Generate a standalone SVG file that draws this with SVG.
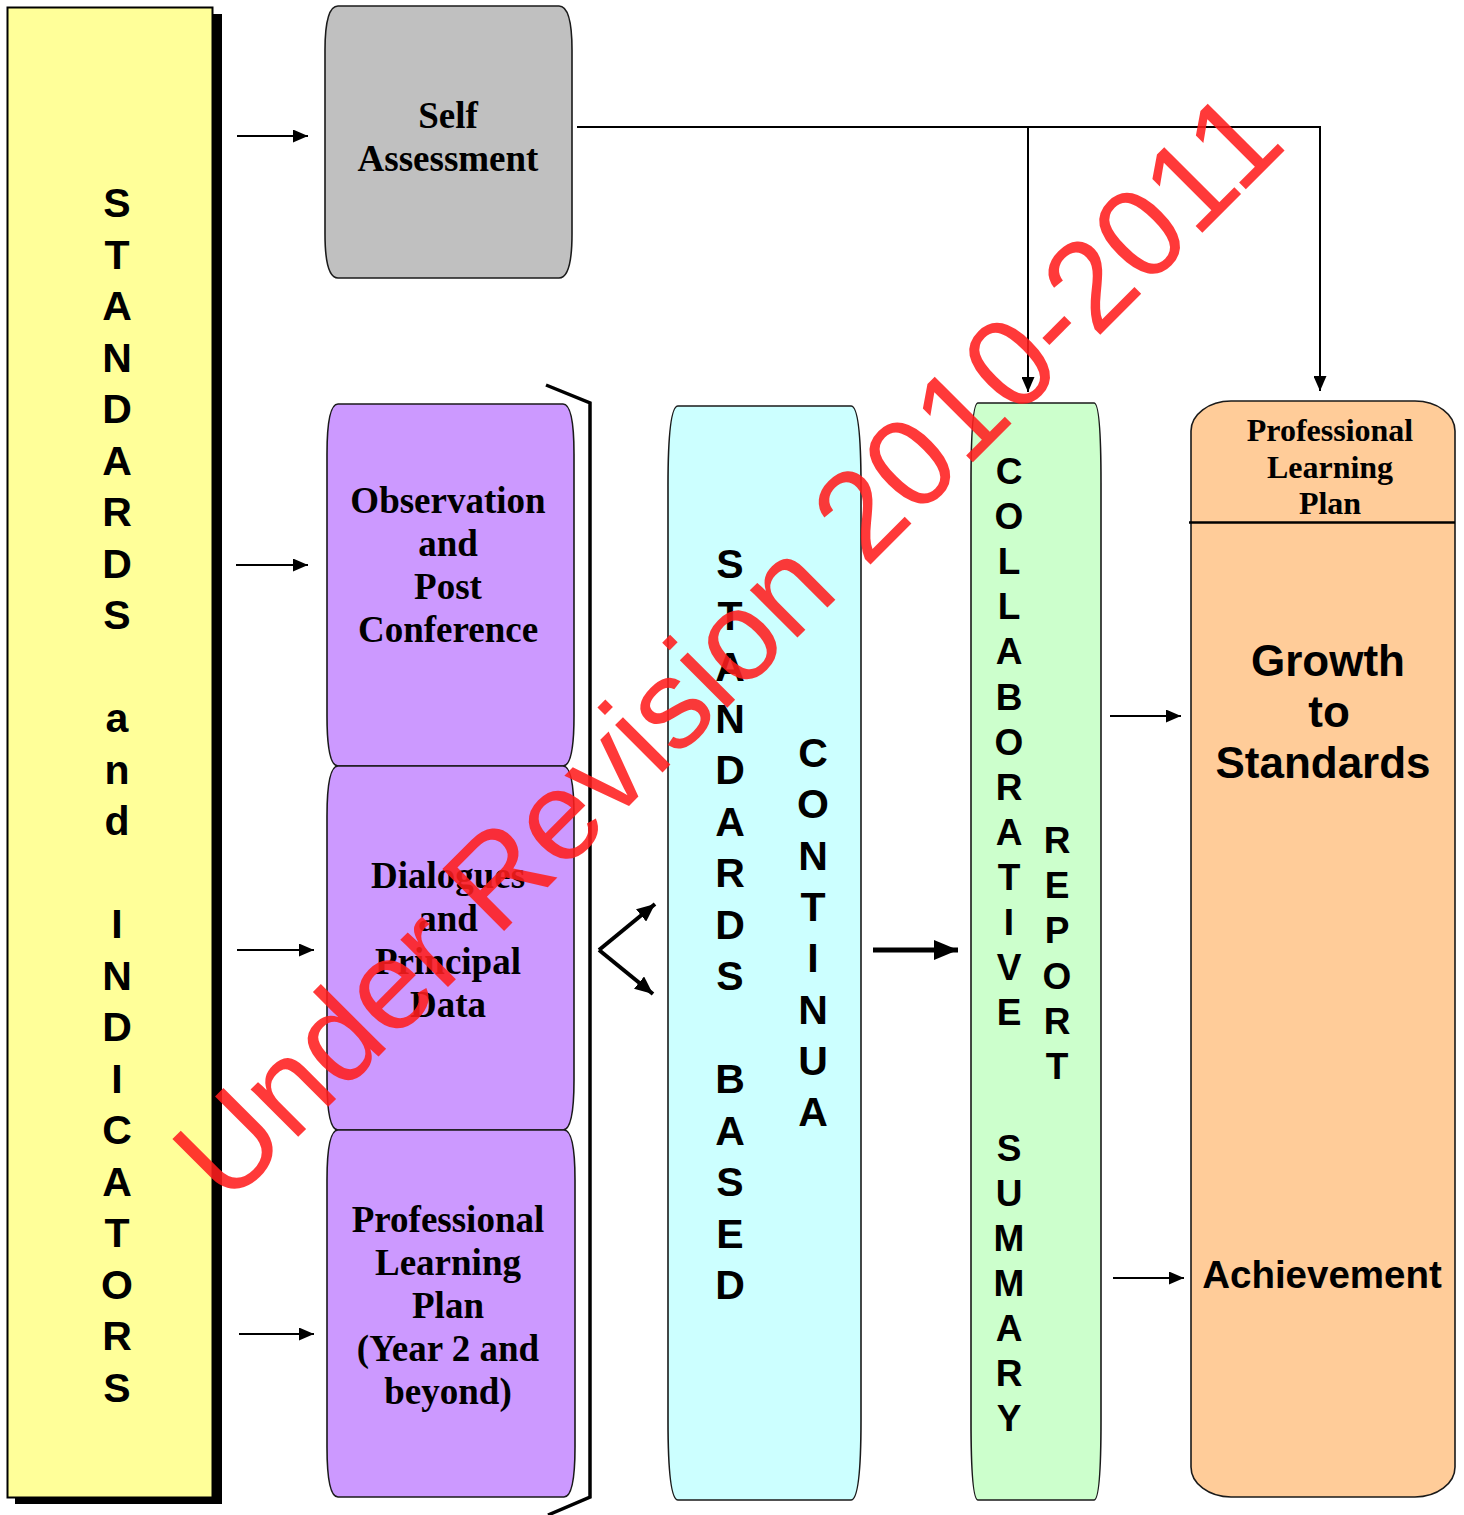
<svg xmlns="http://www.w3.org/2000/svg" width="1464" height="1515" viewBox="0 0 1464 1515">
<style>
.box{stroke:#1a1a1a;stroke-width:1.6}
.ser{font-family:"Liberation Serif","Times New Roman",serif;font-weight:bold;font-size:37px;text-anchor:middle;fill:#000}
.ser2{font-family:"Liberation Serif","Times New Roman",serif;font-weight:bold;font-size:32px;text-anchor:middle;fill:#000}
.v41{font-family:"Liberation Sans",Arial,sans-serif;font-weight:bold;font-size:41px;text-anchor:middle;fill:#000}
.v37{font-family:"Liberation Sans",Arial,sans-serif;font-weight:bold;font-size:37px;text-anchor:middle;fill:#000}
.big{font-family:"Liberation Sans",Arial,sans-serif;font-weight:bold;font-size:44px;text-anchor:middle;fill:#000}
.ach{font-family:"Liberation Sans",Arial,sans-serif;font-weight:bold;font-size:38.5px;text-anchor:middle;fill:#000}
.ln{stroke:#000;stroke-width:2;fill:none}
.thk{stroke:#000;stroke-width:4;fill:none}
</style>
<defs>
<marker id="ah" markerUnits="userSpaceOnUse" markerWidth="15" markerHeight="13" refX="15" refY="6.5" orient="auto"><path d="M0,0 L15,6.5 L0,13 z" fill="#000"/></marker>
<marker id="ahb" markerUnits="userSpaceOnUse" markerWidth="18" markerHeight="16" refX="18" refY="8" orient="auto"><path d="M0,0 L18,8 L0,16 z" fill="#000"/></marker>
<marker id="ahc" markerUnits="userSpaceOnUse" markerWidth="24" markerHeight="20" refX="24" refY="10" orient="auto"><path d="M0,0 L24,10 L0,20 z" fill="#000"/></marker>
</defs>
<rect width="1464" height="1515" fill="#fff"/>

<g id="standards-indicators">
<rect x="15" y="14" width="207" height="1490" fill="#000"/>
<rect x="7.5" y="7.5" width="205" height="1490" fill="#FFFF99" stroke="#000" stroke-width="2"/>
<text class="v41"><tspan x="117" y="217">S</tspan><tspan x="117" y="268.5">T</tspan><tspan x="117" y="320">A</tspan><tspan x="117" y="371.5">N</tspan><tspan x="117" y="423">D</tspan><tspan x="117" y="474.5">A</tspan><tspan x="117" y="526">R</tspan><tspan x="117" y="577.5">D</tspan><tspan x="117" y="629">S</tspan><tspan x="117" y="732">a</tspan><tspan x="117" y="783.5">n</tspan><tspan x="117" y="835">d</tspan><tspan x="117" y="938">I</tspan><tspan x="117" y="989.5">N</tspan><tspan x="117" y="1041">D</tspan><tspan x="117" y="1092.5">I</tspan><tspan x="117" y="1144">C</tspan><tspan x="117" y="1195.5">A</tspan><tspan x="117" y="1247">T</tspan><tspan x="117" y="1298.5">O</tspan><tspan x="117" y="1350">R</tspan><tspan x="117" y="1401.5">S</tspan></text>
</g>

<g id="self-assessment">
<path class="box" fill="#C0C0C0" d="M338,6 H559 Q572,6 572,50 V234 Q572,278 559,278 H338 Q325,278 325,234 V50 Q325,6 338,6 Z"/>
<text class="ser" x="448" y="128">Self</text>
<text class="ser" x="448" y="171">Assessment</text>
</g>

<g id="observation">
<path class="box" fill="#CC99FF" d="M338,404 H563 Q574,404 574,454 V716 Q574,766 563,766 H338 Q327,766 327,716 V454 Q327,404 338,404 Z"/>
<text class="ser"><tspan x="448" y="513">Observation</tspan><tspan x="448" y="556">and</tspan><tspan x="448" y="599">Post</tspan><tspan x="448" y="642">Conference</tspan></text>
</g>

<g id="dialogues">
<path class="box" fill="#CC99FF" d="M338,766 H563 Q574,766 574,816 V1080 Q574,1130 563,1130 H338 Q327,1130 327,1080 V816 Q327,766 338,766 Z"/>
<text class="ser"><tspan x="448" y="888">Dialogues</tspan><tspan x="448" y="931">and</tspan><tspan x="448" y="974">Principal</tspan><tspan x="448" y="1017">Data</tspan></text>
</g>

<g id="plp-year2">
<path class="box" fill="#CC99FF" d="M338,1130 H564 Q575,1130 575,1180 V1447 Q575,1497 564,1497 H338 Q327,1497 327,1447 V1180 Q327,1130 338,1130 Z"/>
<text class="ser"><tspan x="448" y="1232">Professional</tspan><tspan x="448" y="1275">Learning</tspan><tspan x="448" y="1318">Plan</tspan><tspan x="448" y="1361">(Year 2 and</tspan><tspan x="448" y="1404">beyond)</tspan></text>
</g>

<g id="bracket">
<polyline points="546,385 590,403 590,1497 548,1515" fill="none" stroke="#000" stroke-width="3.5"/>
</g>

<g id="standards-based-continua">
<path class="box" fill="#CCFFFF" d="M678,406 H851 Q861,406 861,486 V1420 Q861,1500 851,1500 H678 Q668,1500 668,1420 V486 Q668,406 678,406 Z"/>
<text class="v41"><tspan x="730" y="578">S</tspan><tspan x="730" y="629.5">T</tspan><tspan x="730" y="681">A</tspan><tspan x="730" y="732.5">N</tspan><tspan x="730" y="784">D</tspan><tspan x="730" y="835.5">A</tspan><tspan x="730" y="887">R</tspan><tspan x="730" y="938.5">D</tspan><tspan x="730" y="990">S</tspan><tspan x="730" y="1093">B</tspan><tspan x="730" y="1144.5">A</tspan><tspan x="730" y="1196">S</tspan><tspan x="730" y="1247.5">E</tspan><tspan x="730" y="1299">D</tspan></text>
<text class="v41"><tspan x="813" y="767">C</tspan><tspan x="813" y="818.3">O</tspan><tspan x="813" y="869.6">N</tspan><tspan x="813" y="920.9">T</tspan><tspan x="813" y="972.2">I</tspan><tspan x="813" y="1023.5">N</tspan><tspan x="813" y="1074.8">U</tspan><tspan x="813" y="1126.1">A</tspan></text>
</g>

<g id="collaborative-summary-report">
<path class="box" fill="#CCFFCC" d="M978,403 H1094 Q1101,403 1101,483 V1420 Q1101,1500 1094,1500 H978 Q971,1500 971,1420 V483 Q971,403 978,403 Z"/>
<text class="v37"><tspan x="1009" y="484">C</tspan><tspan x="1009" y="529.1">O</tspan><tspan x="1009" y="574.2">L</tspan><tspan x="1009" y="619.3">L</tspan><tspan x="1009" y="664.4">A</tspan><tspan x="1009" y="709.5">B</tspan><tspan x="1009" y="754.6">O</tspan><tspan x="1009" y="799.7">R</tspan><tspan x="1009" y="844.8">A</tspan><tspan x="1009" y="889.9">T</tspan><tspan x="1009" y="935">I</tspan><tspan x="1009" y="980.1">V</tspan><tspan x="1009" y="1025.2">E</tspan><tspan x="1009" y="1160.5">S</tspan><tspan x="1009" y="1205.6">U</tspan><tspan x="1009" y="1250.7">M</tspan><tspan x="1009" y="1295.8">M</tspan><tspan x="1009" y="1340.9">A</tspan><tspan x="1009" y="1386">R</tspan><tspan x="1009" y="1431.1">Y</tspan></text>
<text class="v37"><tspan x="1057" y="853">R</tspan><tspan x="1057" y="898.2">E</tspan><tspan x="1057" y="943.4">P</tspan><tspan x="1057" y="988.6">O</tspan><tspan x="1057" y="1033.8">R</tspan><tspan x="1057" y="1079">T</tspan></text>
</g>

<g id="professional-learning-plan">
<rect class="box" x="1191" y="401" width="264" height="1096" rx="40" ry="30" fill="#FFCC99"/>
<line x1="1189" y1="522.5" x2="1455" y2="522.5" stroke="#000" stroke-width="2.5"/>
<text class="ser2"><tspan x="1330" y="441">Professional</tspan><tspan x="1330" y="478">Learning</tspan><tspan x="1330" y="514">Plan</tspan></text>
<text class="big"><tspan x="1328" y="676">Growth</tspan><tspan x="1329" y="727">to</tspan><tspan x="1323" y="778">Standards</tspan></text>
<text class="ach" x="1322" y="1288">Achievement</text>
</g>

<g id="connectors">
<line class="ln" x1="237" y1="136" x2="308" y2="136" marker-end="url(#ah)"/>
<line class="ln" x1="236" y1="565" x2="308" y2="565" marker-end="url(#ah)"/>
<line class="ln" x1="237" y1="950" x2="314" y2="950" marker-end="url(#ah)"/>
<line class="ln" x1="239" y1="1334" x2="314" y2="1334" marker-end="url(#ah)"/>
<polyline class="ln" points="577,127 1320,127 1320,391" marker-end="url(#ah)"/>
<line class="ln" x1="1028" y1="127" x2="1028" y2="392" marker-end="url(#ah)"/>
<line class="thk" x1="599" y1="950" x2="655" y2="904" marker-end="url(#ahb)"/>
<line class="thk" x1="599" y1="950" x2="653" y2="994" marker-end="url(#ahb)"/>
<line stroke="#000" stroke-width="5" x1="873" y1="950" x2="958" y2="950" marker-end="url(#ahc)"/>
<line class="ln" x1="1110" y1="716" x2="1181" y2="716" marker-end="url(#ah)"/>
<line class="ln" x1="1113" y1="1278" x2="1184" y2="1278" marker-end="url(#ah)"/>
</g>

<g id="watermark">
<text x="758" y="677" transform="rotate(-45 758 677)" font-family="'Liberation Sans',Arial,sans-serif" font-size="127" text-anchor="middle" fill="#FF1E1E" fill-opacity="0.88">Under Revision 2010-2011</text>
</g>
</svg>
